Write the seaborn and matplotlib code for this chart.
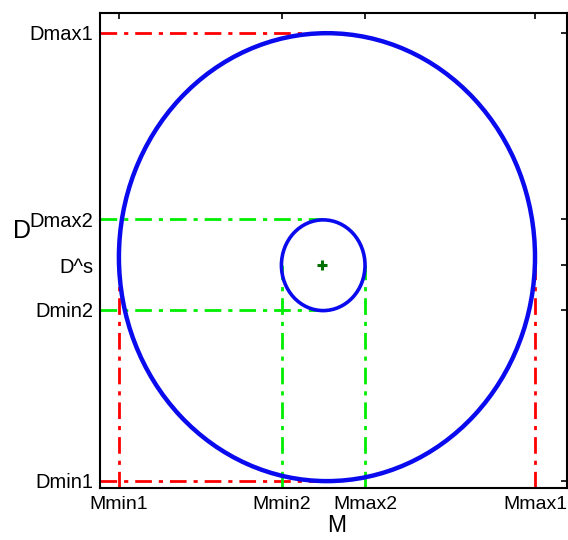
import numpy as np
import pandas as pd
import matplotlib
matplotlib.use("Agg")
from matplotlib import pyplot as plt
from matplotlib.patches import Ellipse
import seaborn as sns

# tick positions and labels
m_ticks = [0.41, 3.89, 5.68, 9.32]
m_labels = ['Mmin1', 'Mmin2', 'Mmax2', 'Mmax1']
d_ticks = [0.15, 3.75, 4.69, 5.66, 9.58]
d_labels = ['Dmin1', 'Dmin2', 'D^s', 'Dmax2', 'Dmax1']

# big and small ellipse (center x, center y, width, height)
big = [4.86, 4.86, 8.91, 9.43]
small = [4.78, 4.69, 1.79, 1.91]
center_pt = [4.76, 4.69]
top_x = 4.76

sns.set_style('white')
plt.rcParams['font.family'] = ['Liberation Sans', 'DejaVu Sans']

fig = plt.figure(figsize=(5.68, 5.40), dpi=100)
ax = fig.add_axes([100 / 568, 52 / 540, 467 / 568, 475 / 540])

ax.set_xlim(0, 10)
ax.set_ylim(0, 10)

dashdot = (0, (6, 2.5, 1.5, 2.5))

# red guides for the big ellipse, green for the small one
red = '#ff0000'
guides_red = [
    ([0, top_x], [d_ticks[4], d_ticks[4]]),
    ([0, top_x], [d_ticks[0], d_ticks[0]]),
    ([m_ticks[0], m_ticks[0]], [0, big[1]]),
    ([m_ticks[3], m_ticks[3]], [0, big[1]]),
]
green = '#00ee00'
guides_green = [
    ([0, top_x], [d_ticks[3], d_ticks[3]]),
    ([0, top_x], [d_ticks[1], d_ticks[1]]),
    ([m_ticks[1], m_ticks[1]], [0, small[1]]),
    ([m_ticks[2], m_ticks[2]], [0, small[1]]),
]
for col, guides in [(red, guides_red), (green, guides_green)]:
    for xs, ys in guides:
        sns.lineplot(x=xs, y=ys, ax=ax, color=col, lw=2, sort=False,
                     estimator=None, zorder=2)
        ax.lines[-1].set_linestyle(dashdot)

ax.add_patch(Ellipse((big[0], big[1]), big[2], big[3], fill=False,
                     edgecolor='#0a0aee', lw=3.2, zorder=3))
ax.add_patch(Ellipse((small[0], small[1]), small[2], small[3], fill=False,
                     edgecolor='#0a0aee', lw=2.6, zorder=3))

sns.scatterplot(x=[center_pt[0]], y=[center_pt[1]], ax=ax, marker='+',
                s=50, color='#007000', linewidth=2.2, zorder=4)

ax.set_xticks(m_ticks)
ax.set_xticklabels(m_labels)
ax.set_yticks(d_ticks)
ax.set_yticklabels(d_labels)
ax.tick_params(direction='in', length=4, width=1.2, top=True, right=True,
               labelsize=14.5, colors='black', labelcolor='black')
ax.tick_params(axis='y', pad=5)
ax.tick_params(axis='x', pad=6, labelsize=14)

for s in ax.spines.values():
    s.set_linewidth(1.5)
    s.set_color('black')

ax.set_xlabel('M', fontsize=16.5, color='black', labelpad=0)
ax.xaxis.set_label_coords(0.507, -0.054)
ax.xaxis.label.set_va('top')
ax.set_ylabel('D', fontsize=18, rotation=0, color='black')
ax.yaxis.set_label_coords(-0.167, 0.54)
ax.yaxis.label.set_ha('center')
ax.yaxis.label.set_va('center')

plt.savefig('out.png', dpi=100)
